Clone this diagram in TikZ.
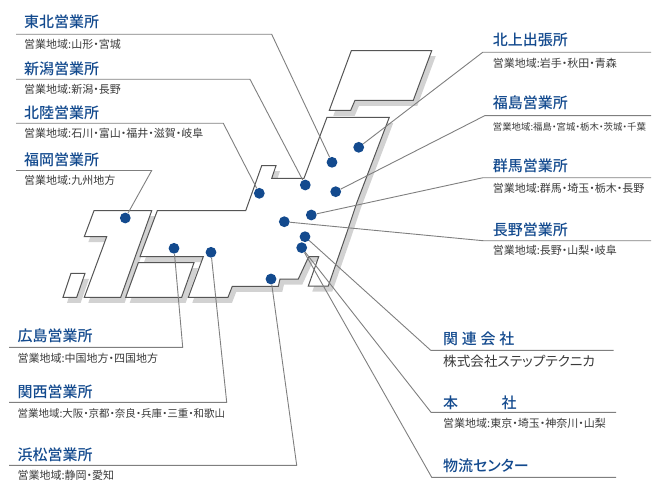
\documentclass[tikz,border=0pt]{standalone}
\usepackage{fontspec}
\setmainfont[RawFeature=+palt,BoldFont={Noto Sans CJK JP Medium}]{Noto Sans CJK JP}
\usetikzlibrary{positioning}

\definecolor{officeblue}{HTML}{134A8E}
\definecolor{subtext}{HTML}{3A3A3A}
\definecolor{leader}{HTML}{7F7F7F}
\definecolor{coast}{HTML}{555555}
\definecolor{shade}{HTML}{D2D2D2}

\tikzset{
  office/.style={circle,fill=officeblue,inner sep=0pt,minimum size=10.8pt},
  title/.style={anchor=west,inner sep=0pt,text=officeblue,font=\fontsize{15}{17}\selectfont\bfseries},
  area/.style={anchor=west,inner sep=0pt,text=subtext,font=\fontsize{11}{13}\selectfont},
  leaderline/.style={draw=leader,line width=.9pt},
  land/.style={draw=coast,line width=1pt,fill=white,line join=miter},
  landshade/.style={fill=shade,shift={(4,5.5)}}
}

\def\hokkaidoland{(351.3,50.7) -- (431.7,50.7) -- (413.3,100.3) -- (355,100.3) -- (350.7,110.3) -- (329.3,110.3) -- cycle}
\def\honshuland{(327,117.3) -- (389.3,117.3) -- (356.7,203) -- (346.7,233) -- (328.3,286) -- (308.3,286) -- (318.7,256.7) -- (308.7,256.7) -- (298.3,279) -- (280,279) -- (278.3,286.3) -- (232.3,286.3) -- (228,297.3) -- (188.3,297.3) -- (203.3,256.7) -- (140,256.7) -- (157.3,210.7) -- (245.7,210.7) -- (261.7,165.7) -- (276,165.7) -- (271.7,178.3) -- (304,178.3) -- cycle}
\def\shikokuland{(138.3,262.7) -- (194,262.7) -- (181.7,297.3) -- (125.7,297.3) -- cycle}
\def\kyushuland{(94,210.7) -- (151.7,210.7) -- (120.7,297.3) -- (84.3,297.3) -- (106.7,236.7) -- (84.3,236.7) -- cycle}
\def\okinawaland{(71,273.3) -- (85,273.3) -- (76.7,297.3) -- (63,297.3) -- cycle}

\begin{document}
\begin{tikzpicture}[x=1pt,y=-1pt]
  \useasboundingbox (0,0) rectangle (666,500);

  % shadows first, then the islands
  \foreach \isle in {\hokkaidoland,\honshuland,\shikokuland,\kyushuland,\okinawaland}
    \fill[landshade] \isle;
  \foreach \isle in {\hokkaidoland,\honshuland,\shikokuland,\kyushuland,\okinawaland}
    \draw[land] \isle;

  % offices
  \node (kitakami) [office] at (358.7,147.3) {};
  \node (tohoku) [office] at (332,162.3) {};
  \node (niigata) [office] at (305.3,185) {};
  \node (hokuriku) [office] at (259.3,193.3) {};
  \node (fukuoka) [office] at (125.3,218) {};
  \node (fukushima) [office] at (335.7,191.7) {};
  \node (gunma) [office] at (311.3,215) {};
  \node (nagano) [office] at (284.3,221.7) {};
  \node (related) [office] at (305,236.7) {};
  \node (head) [office] at (301.7,247.7) {};
  \node (hamamatsu) [office] at (271,279) {};
  \node (hiroshima) [office] at (174,248.3) {};
  \node (kansai) [office] at (211,252.3) {};

  % left column
  \node (tohokuT) [title] at (24,22) {東北営業所};
  \node (tohokuA) [area] at (24,44.5) {営業地域:山形・宮城};
  \node (niigataT) [title] at (24,69) {新潟営業所};
  \node (niigataA) [area] at (24,89.5) {営業地域:新潟・長野};
  \node (hokurikuT) [title] at (24,113) {北陸営業所};
  \node (hokurikuA) [area] at (24,133) {営業地域:石川・富山・福井・滋賀・岐阜};
  \node (fukuokaT) [title] at (24,160) {福岡営業所};
  \node (fukuokaA) [area] at (24,180) {営業地域:九州地方};

  \node (hiroshimaT) [title] at (17.3,336) {広島営業所};
  \node (hiroshimaA) [area] at (17.3,358.8) {営業地域:中国地方・四国地方};
  \node (kansaiT) [title] at (17.3,391.7) {関西営業所};
  \node (kansaiA) [area,font=\fontsize{10.5}{13}\selectfont] at (17.3,413.8) {営業地域:大阪・京都・奈良・兵庫・三重・和歌山};
  \node (hamamatsuT) [title] at (17.3,455) {浜松営業所};
  \node (hamamatsuA) [area] at (17.3,475.5) {営業地域:静岡・愛知};

  % right column
  \node (kitakamiT) [title] at (492.7,40) {北上出張所};
  \node (kitakamiA) [area] at (492.7,63.5) {営業地域:岩手・秋田・青森};
  \node (fukushimaT) [title] at (492.7,103) {福島営業所};
  \node (fukushimaA) [area,font=\fontsize{9.4}{13}\selectfont] at (492.7,127) {営業地域:福島・宮城・栃木・茨城・千葉};
  \node (gunmaT) [title] at (492.7,166) {群馬営業所};
  \node (gunmaA) [area] at (492.7,188.5) {営業地域:群馬・埼玉・栃木・長野};
  \node (naganoT) [title] at (492.7,230) {長野営業所};
  \node (naganoA) [area] at (492.7,250.5) {営業地域:長野・山梨・岐阜};

  \node (relatedT) [title] at (443,339.3) {関\hspace{.25em}連\hspace{.25em}会\hspace{.25em}社};
  \node (relatedA) [area,font=\fontsize{13.6}{15}\selectfont] at (443,361.7) {株式会社ステップテクニカ};
  \node (headT) [title] at (443,402.7) {本\hspace{2.9em}社};
  \node (headA) [area] at (443,423.8) {営業地域:東京・埼玉・神奈川・山梨};
  \node (logisticsT) [title] at (443,465.7) {物流センター};

  % leader bends and ends
  \coordinate (tohokuS) at (16,34.3);
  \coordinate (tohokuB) at (271.7,34.3);
  \coordinate (niigataS) at (16,79.3);
  \coordinate (niigataB) at (250,79.3);
  \coordinate (hokurikuS) at (16,123.3);
  \coordinate (hokurikuB) at (223.3,123.3);
  \coordinate (fukuokaS) at (16,170.5);
  \coordinate (fukuokaB) at (151.7,170.5);
  \coordinate (hiroshimaS) at (9,347.3);
  \coordinate (hiroshimaB) at (182.7,347.3);
  \coordinate (kansaiS) at (9,402.3);
  \coordinate (kansaiB) at (226.7,402.3);
  \coordinate (hamamatsuS) at (9,465.3);
  \coordinate (hamamatsuB) at (296.7,465.3);
  \coordinate (kitakamiS) at (651,52.3);
  \coordinate (kitakamiB) at (482.7,52.3);
  \coordinate (fukushimaS) at (651,115.7);
  \coordinate (fukushimaB) at (484.7,115.7);
  \coordinate (gunmaS) at (651,177.7);
  \coordinate (gunmaB) at (483,177.7);
  \coordinate (naganoS) at (651,240.7);
  \coordinate (naganoB) at (483,240.7);
  \coordinate (relatedS) at (613.7,350.3);
  \coordinate (relatedB) at (430.7,350.3);
  \coordinate (headS) at (616,412.3);
  \coordinate (headB) at (431,412.3);
  \coordinate (logisticsS) at (616,477.3);
  \coordinate (logisticsB) at (431.7,477.3);

  \foreach \o in {tohoku,niigata,hokuriku,fukuoka,hiroshima,kansai,hamamatsu,kitakami,fukushima,gunma,nagano,related,head}
    \draw[leaderline] (\o S) -- (\o B) -- (\o);
  \draw[leaderline] (logisticsS) -- (logisticsB) -- (head);
\end{tikzpicture}
\end{document}
